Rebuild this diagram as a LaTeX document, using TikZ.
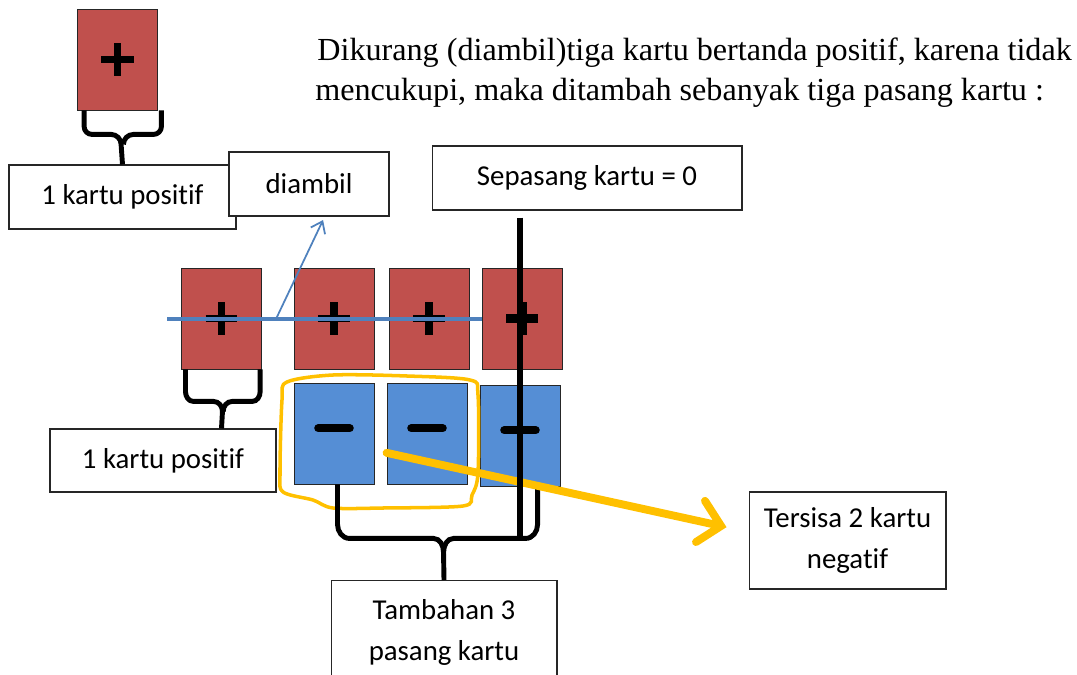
\documentclass[tikz,border=0pt]{standalone}
\usepackage{fontspec}
\setmainfont{Liberation Serif}
\newfontfamily\kalibri[Ligatures={NoCommon,NoRare,NoContextual},Contextuals=NoAlternate]{Carlito}
\usetikzlibrary{arrows.meta}
\definecolor{kartumerah}{RGB}{192,80,77}
\definecolor{kartubiru}{RGB}{85,142,213}
\definecolor{garisbiru}{RGB}{79,129,189}
\definecolor{kuning}{RGB}{255,192,0}
\begin{document}
\begin{tikzpicture}[x=0.02cm,y=-0.02cm]
\tikzstyle{every node}+=[inner sep=0pt]
\tikzstyle{kotak}=[draw=black!85,line width=0.6pt,fill=white,minimum height=1.28cm,font=\kalibri\fontsize{16.4}{23.5}\selectfont,align=center]
\tikzstyle{merah}=[draw=black!85,line width=0.5pt,fill=kartumerah,minimum width=1.6cm,minimum height=2.02cm]
\tikzstyle{biru}=[merah,fill=kartubiru]
\tikzstyle{tanda}=[line width=4.5pt]
\tikzstyle{kurung}=[line width=2.8pt]
\tikzstyle{kalimat}=[anchor=base west,font=\fontsize{18.3}{22}\selectfont]
\clip (0,0) rectangle (1077,675);
\node [merah] (atas) at (117.5,59.5) {};
\draw [tanda] ([xshift=-9.3pt]atas.center) -- ([xshift=9.3pt]atas.center);
\draw [tanda] ([yshift=-9.3pt]atas.center) -- ([yshift=9.3pt]atas.center);
\node [kalimat] (baris1) at (317,61) {Dikurang (diambil)tiga kartu bertanda positif, karena tidak};
\node [kalimat] (baris2) at (315,101) {mencukupi, maka ditambah sebanyak tiga pasang kartu :};
\node [kotak,minimum width=4.54cm] (positif1) at (122.5,197) {1 kartu positif};
\node [kotak,minimum width=3.2cm] (diambil) at (309,184) {diambil};
\node [kotak,minimum width=6.2cm] (sepasang) at (587,178) {Sepasang kartu = 0};
\draw [kurung] ([xshift=4pt]atas.south west) -- ++(0,16) to[out=-90,in=180] ++(8,8) -- ++(19,0) to[out=0,in=90] ++(10,10) -- (positif1.north);
\draw [kurung] ([xshift=2pt]atas.south east) -- ++(0,16) to[out=-90,in=0] ++(-8,8) -- ++(-20,0) to[out=180,in=90] ++(-10,10);
\node [merah] (m1) at (221.5,318.5) {};
\node [merah] (m2) at (334,318.5) {};
\node [merah] (m3) at (429,318.5) {};
\node [merah] (m4) at (522,318.5) {};
\draw [tanda] ([xshift=-9pt]m1.center) -- ([xshift=9pt]m1.center);
\draw [tanda] ([yshift=-9.3pt]m1.center) -- ([yshift=9.3pt]m1.center);
\draw [tanda] ([xshift=-9pt]m2.center) -- ([xshift=9pt]m2.center);
\draw [tanda] ([yshift=-9.3pt]m2.center) -- ([yshift=9.3pt]m2.center);
\draw [tanda] ([xshift=-9pt]m3.center) -- ([xshift=9pt]m3.center);
\draw [tanda] ([yshift=-9.3pt]m3.center) -- ([yshift=9.3pt]m3.center);
\draw [tanda,line width=5.5pt] ([xshift=-9pt]m4.center) -- ([xshift=9pt]m4.center);
\draw [tanda,line width=5.5pt] ([yshift=-9.3pt]m4.center) -- ([yshift=9.3pt]m4.center);
\node [biru] (b1) at (334,433.5) {};
\node [biru] (b2) at (427,433.5) {};
\node [biru] (b3) at (520,435.5) {};
\draw [tanda,line cap=round] ([xshift=-9pt,yshift=3pt]b1.center) -- ([xshift=9pt,yshift=3pt]b1.center);
\draw [tanda,line cap=round] ([xshift=-9pt,yshift=3pt]b2.center) -- ([xshift=9pt,yshift=3pt]b2.center);
\draw [tanda,line cap=round] ([xshift=-9pt,yshift=3pt]b3.center) -- ([xshift=9pt,yshift=3pt]b3.center);
\coordinate (coret) at (167,319);
\coordinate (pangkal) at (276,319);
\draw [garisbiru,line width=2.8pt] (coret) -- (m4.west |- coret);
\draw [garisbiru,line width=1pt,-{Straight Barb[length=6pt,width=9pt]}] (pangkal) -- ([xshift=8pt,yshift=-2pt]diambil.south);
\node [kotak,minimum width=4.52cm,minimum height=1.26cm] (positif2) at (163,460.5) {1 kartu positif};
\draw [kurung] ([xshift=2.5pt]m1.south west) -- ++(0,22) to[out=-90,in=180] ++(8,10) -- ++(20,0) to[out=0,in=90] ++(9,10) -- (m1.south |- positif2.north);
\draw [kurung] ([xshift=-1pt]m1.south east) -- ++(0,22) to[out=-90,in=0] ++(-8,10) -- ++(-20,0) to[out=180,in=90] ++(-9,10);
\draw [kuning,line width=2pt] plot[smooth cycle,tension=0.5] coordinates {(287,382) (333,375) (407,376) (470,380) (478,395) (478,473) (472,495) (463,506) (383,508) (333,508) (313,500) (283,492) (280,473) (282,400)};
\node [kotak,minimum width=3.94cm,minimum height=1.94cm] (tersisa) at (847.5,540.5) {Tersisa 2 kartu\\negatif};
\node [kotak,anchor=north,minimum width=4.52cm,minimum height=2.08cm] (tambah) at (444,580) {Tambahan 3\\pasang kartu};
\draw [kurung] ([xshift=2pt]b1.south) -- ++(0,40) to[out=-90,in=180] ++(12,14) -- ++(84,0) to[out=0,in=90] ++(10,14) -- (tambah.north);
\draw [kurung] ([xshift=10pt]b3.south) -- ++(0,38) to[out=-90,in=0] ++(-12,14) -- ++(-72,0) to[out=180,in=90] ++(-10,14);
\draw [kuning,line width=4.5pt,line cap=round,-{Straight Barb[length=12pt,width=24pt,line cap=round]}] ([xshift=-23pt,yshift=-11pt]b2.center) -- ([xshift=-12.5pt,yshift=7.6pt]tersisa.west);
\coordinate (ujung) at (520,540);
\draw [line width=3.4pt] (b3.center |- sepasang.south) ++(0,7) -- (ujung);
\end{tikzpicture}
\end{document}
